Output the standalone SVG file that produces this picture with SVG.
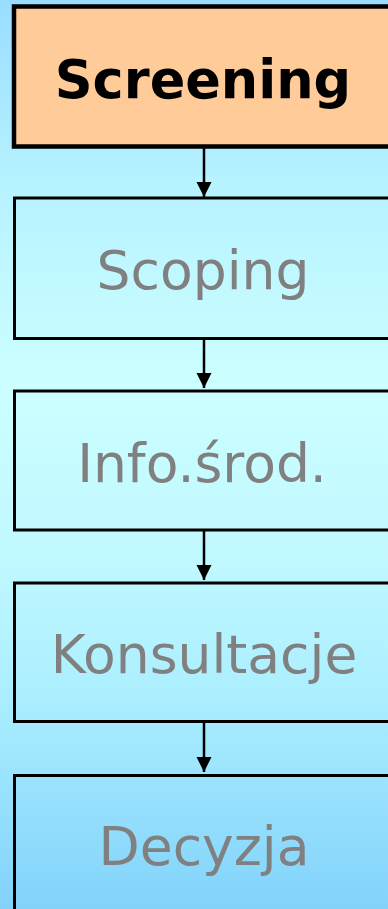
<svg xmlns="http://www.w3.org/2000/svg" width="388" height="909" viewBox="0 0 388 909">
  <defs>
    <linearGradient id="bg" x1="0" y1="0" x2="0" y2="1">
      <stop offset="0" stop-color="#99DDFF"/>
      <stop offset="0.2" stop-color="#B6F2FF"/>
      <stop offset="0.42" stop-color="#CCFFFF"/>
      <stop offset="0.62" stop-color="#C0F8FF"/>
      <stop offset="0.77" stop-color="#AAEEFF"/>
      <stop offset="1" stop-color="#82D2FB"/>
    </linearGradient>
    <marker id="arr" markerUnits="userSpaceOnUse" markerWidth="16" markerHeight="16" viewBox="0 0 16 16" refX="15" refY="8" orient="auto">
      <path d="M0,0.5 L15,8 L0,15.5 Z" fill="#000"/>
    </marker>
    <style>
      .box { fill: none; stroke: #000; stroke-width: 3; }
      .lbl { font-family: "DejaVu Sans", Verdana, sans-serif; font-size: 53.5px; fill: #808080; text-anchor: middle; }
      .conn { stroke: #000; stroke-width: 2.5; fill: none; marker-end: url(#arr); }
    </style>
  </defs>
  <rect x="0" y="0" width="388" height="909" fill="url(#bg)"/>
  <g id="connectors">
    <line class="conn" x1="204" y1="148" x2="204" y2="197"/>
    <line class="conn" x1="204" y1="340" x2="204" y2="388"/>
    <line class="conn" x1="204" y1="531" x2="204" y2="580"/>
    <line class="conn" x1="204" y1="723" x2="204" y2="772"/>
  </g>
  <g id="screening">
    <rect x="14" y="6.5" width="390" height="140" fill="#FFCC99" stroke="#000" stroke-width="4.5"/>
    <text x="203" y="98" font-family="DejaVu Sans, Verdana, sans-serif" font-size="52.5" font-weight="bold" fill="#000" text-anchor="middle">Screening</text>
  </g>
  <g id="scoping">
    <rect class="box" x="14.5" y="198" width="390" height="140.5"/>
    <text class="lbl" x="203" y="289">Scoping</text>
  </g>
  <g id="info">
    <rect class="box" x="14.5" y="391" width="390" height="139"/>
    <text class="lbl" x="202" y="482">Info.środ.</text>
  </g>
  <g id="konsultacje">
    <rect class="box" x="14.5" y="583" width="390" height="138.5"/>
    <text class="lbl" x="204" y="673">Konsultacje</text>
  </g>
  <g id="decyzja">
    <rect class="box" x="14.5" y="775.5" width="390" height="150"/>
    <text class="lbl" x="204" y="865">Decyzja</text>
  </g>
</svg>
